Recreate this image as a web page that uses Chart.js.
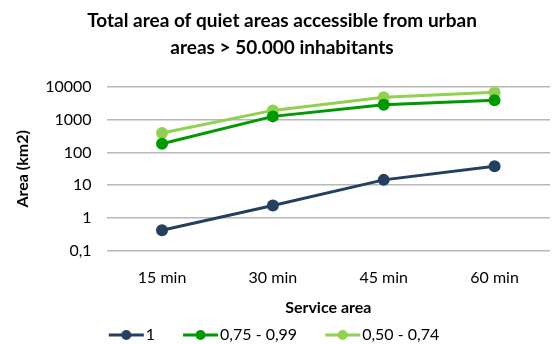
<!DOCTYPE html>
<html>
<head>
<meta charset="utf-8">
<script src="https://cdn.jsdelivr.net/npm/chart.js@4"></script>
<style>
    html, body { margin: 0; padding: 0; background: #fff; }
    #wrap { width: 556px; height: 344px; }
</style>
</head>
<body>
<div id="wrap"><canvas id="chart"></canvas></div>
<script>
// Data
const categories = ['15 min', '30 min', '45 min', '60 min'];
const seriesNames = ['1', '0,75 - 0,99', '0,50 - 0,74'];
const values1 = [0.42, 2.4, 14.6, 38];
const values2 = [186, 1280, 2925, 4000];
const values3 = [396, 1950, 4900, 6950];
const yTicks = [0.1, 1, 10, 100, 1000, 10000];

const seriesColors = ['#243F60', '#009A00', '#92D050'];
const fontFamily = 'Lato, "Open Sans", sans-serif';

// legend marker: transparent gap on the left, then a short line with a dot
const MARK_BOX = 53;
function legendMarker(color) {
    const c = document.createElement('canvas');
    c.width = MARK_BOX + 14;
    c.height = 12;
    const g = c.getContext('2d');
    const end = MARK_BOX + 13;
    g.strokeStyle = color;
    g.lineWidth = 3;
    g.beginPath();
    g.moveTo(end - 35, 6);
    g.lineTo(end, 6);
    g.stroke();
    g.fillStyle = color;
    g.beginPath();
    g.arc(end - 17.5, 6, 5, 0, Math.PI * 2);
    g.fill();
    return c;
}

// nudge the legend row a little to the left, as in the original
const legendShift = {
    id: 'legendShift',
    afterLayout(chart) {
        chart.legend.left -= 20;
        chart.legend.right -= 20;
    }
};

const allValues = [values1, values2, values3];

const datasets = allValues.map((vals, i) => ({
    label: seriesNames[i],
    data: vals,
    borderColor: seriesColors[i],
    backgroundColor: seriesColors[i],
    borderWidth: 3,
    pointRadius: 6,
    pointHoverRadius: 6,
    pointBorderWidth: 0,
    tension: 0,
    fill: false
}));

const ctx = document.getElementById('chart').getContext('2d');
new Chart(ctx, {
    type: 'line',
    data: { labels: categories, datasets: datasets },
    plugins: [legendShift],
    options: {
        responsive: true,
        maintainAspectRatio: false,
        animation: false,
        layout: { padding: { left: 8, right: 0, top: 8, bottom: -9 } },
        plugins: {
            title: {
                display: true,
                text: ['Total area of quiet areas accessible from urban', 'areas > 50.000 inhabitants'],
                color: '#000',
                font: { family: fontFamily, size: 19, weight: 'bold', lineHeight: 1.4 },
                padding: { top: 0, bottom: 26 }
            },
            legend: {
                position: 'bottom',
                labels: {
                    color: '#000',
                    font: { family: fontFamily, size: 16 },
                    usePointStyle: true,
                    pointStyleWidth: MARK_BOX,
                    boxHeight: 12,
                    padding: 4,
                    generateLabels: (chart) => chart.data.datasets.map((ds, i) => ({
                        text: ds.label,
                        fillStyle: ds.borderColor,
                        strokeStyle: ds.borderColor,
                        lineWidth: 0,
                        pointStyle: legendMarker(ds.borderColor),
                        datasetIndex: i,
                        hidden: false
                    }))
                }
            },
            tooltip: { enabled: false }
        },
        scales: {
            x: {
                offset: true,
                grid: { display: false, drawTicks: false },
                border: { display: false },
                ticks: {
                    color: '#000',
                    font: { family: fontFamily, size: 16 },
                    padding: 18
                },
                title: {
                    display: true,
                    text: 'Service area',
                    color: '#000',
                    font: { family: fontFamily, size: 16, weight: 'bold' },
                    padding: { top: -8, bottom: 6 }
                }
            },
            y: {
                type: 'logarithmic',
                min: 0.1,
                max: 10000,
                afterBuildTicks: (axis) => {
                    axis.ticks = yTicks.map(v => ({ value: v }));
                },
                grid: { color: '#B8B8B8', lineWidth: 1.5, drawTicks: false },
                border: { display: false },
                ticks: {
                    color: '#000',
                    font: { family: fontFamily, size: 16 },
                    padding: 15,
                    callback: (v) => String(v).replace('.', ',')
                },
                title: {
                    display: true,
                    text: 'Area (km2)',
                    color: '#000',
                    font: { family: fontFamily, size: 16, weight: 'bold' },
                    padding: { top: 5, bottom: -2 }
                }
            }
        }
    }
});
</script>
</body>
</html>
